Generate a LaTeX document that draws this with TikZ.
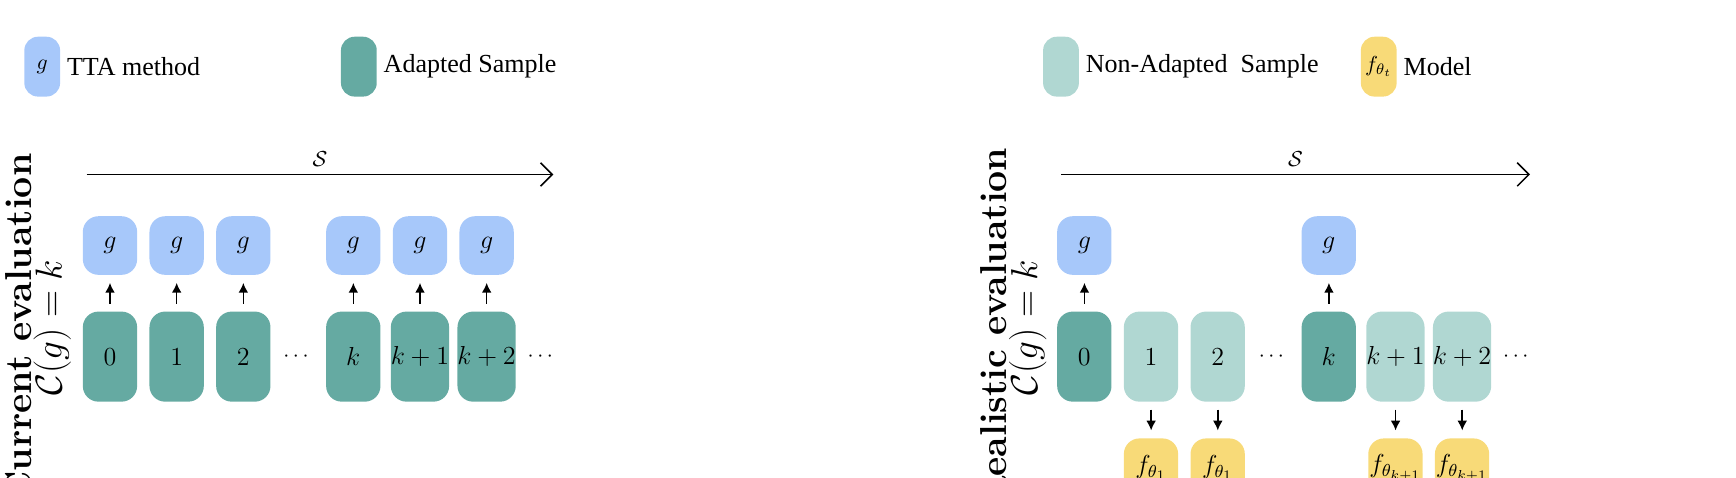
\documentclass[tikz,border=0pt]{standalone}
\usepackage{amsmath,amssymb}
\usepackage{fontspec}
\setmainfont{Liberation Serif}
\newfontfamily\lmfont{Latin Modern Roman}
\usepackage{tikz}
\usetikzlibrary{positioning,calc,arrows.meta}
\definecolor{ttablue}{HTML}{A7C8FA}
\definecolor{adapted}{HTML}{65AAA2}
\definecolor{nonadapted}{HTML}{B0D7D2}
\definecolor{modelyel}{HTML}{F8DA78}
\tikzset{
  box/.style={rounded corners=8pt, inner sep=0pt, font=\large},
  gbox/.style={box, fill=ttablue, minimum width=0.88cm, minimum height=0.95cm},
  sbox/.style={box, fill=adapted, minimum width=0.88cm, minimum height=1.46cm},
  nbox/.style={box, fill=nonadapted, minimum width=0.88cm, minimum height=1.46cm},
  fbox/.style={box, fill=modelyel, minimum width=0.88cm, minimum height=0.95cm},
  lgd/.style={rounded corners=7pt, minimum width=0.58cm, minimum height=0.97cm, inner sep=0pt, font=\normalsize},
  lgdtext/.style={right, inner sep=0pt, font=\large},
  up/.style={-{Latex[length=5pt,width=5pt]}, thick},
}
\begin{document}
\begin{tikzpicture}[x=0.018cm,y=-0.018cm]
\useasboundingbox (0,0) rectangle (1736,478);
\begin{scope}[scale=1.111, transform shape]
% legend
\node[lgd, fill=ttablue] (lg) at (38,60) {$g$};
\node[lgdtext] (lgt) at (60,60) {TTA method};
\node[lgd, fill=adapted] (la) at (323,60) {};
\node[lgdtext] (lat) at (345,60) {Adapted Sample};
\node[lgd, fill=nonadapted] (ln) at (955,60) {};
\node[lgdtext] (lnt) at (977,60) {Non-Adapted\ \ Sample};
\node[lgd, fill=modelyel] (lm) at (1241,60) {$f_{\theta_t}$};
\node[lgdtext] (lmt) at (1263,60) {Model};

% current evaluation
\node[rotate=90, font=\lmfont\LARGE\bfseries] (cur) at (17,295) {Current evaluation};
\node[rotate=90, font=\LARGE] (curc) at (47,295) {$\mathcal{C}(g)=k$};
\coordinate (cs) at (78,157);
\coordinate (ce) at (498,157);
\draw[-{Straight Barb[length=6pt]}, thick] (cs) -- node[above] {$\mathcal{S}$} (ce);
\foreach \x/\lab/\nm in {99/0/a, 159/1/b, 219/2/c, 318/k/d, 378/k+1/e, 438/k+2/f} {
  \node[gbox] (g\nm) at (\x,221) {$g$};
  \node[sbox] (s\nm) at (\x,321) {$\lab$};
  \draw[up] ([yshift=3.5pt]s\nm.north) -- ([yshift=-3.5pt]g\nm.south);
}
\node (dl1) at (268,321) {$\cdots$};
\node (dl2) at (488,321) {$\cdots$};

% realistic evaluation
\node[rotate=90, font=\lmfont\LARGE\bfseries] (real) at (894,295) {Realistic evaluation};
\node[rotate=90, font=\LARGE] (realc) at (925,295) {$\mathcal{C}(g)=k$};
\coordinate (rs) at (955,157);
\coordinate (re) at (1377,157);
\draw[-{Straight Barb[length=6pt]}, thick] (rs) -- node[above] {$\mathcal{S}$} (re);
\foreach \x/\lab/\nm in {976/0/a, 1196/k/d} {
  \node[gbox] (rg\nm) at (\x,221) {$g$};
  \node[sbox] (r\nm) at (\x,321) {$\lab$};
  \draw[up] ([yshift=3.5pt]r\nm.north) -- ([yshift=-3.5pt]rg\nm.south);
}
\foreach \x/\lab/\f/\nm in {1036/1/1/b, 1096/2/1/c, 1256/k+1/k+1/e, 1316/k+2/k+1/f} {
  \node[nbox] (r\nm) at (\x,321) {$\lab$};
  \node[fbox] (rf\nm) at (\x,421) {$f_{\theta_{\f}}$};
  \draw[up] ([yshift=-3.5pt]r\nm.south) -- ([yshift=3.5pt]rf\nm.north);
}
\node (dr1) at (1146,321) {$\cdots$};
\node (dr2) at (1366,321) {$\cdots$};
\end{scope}
\end{tikzpicture}
\end{document}
